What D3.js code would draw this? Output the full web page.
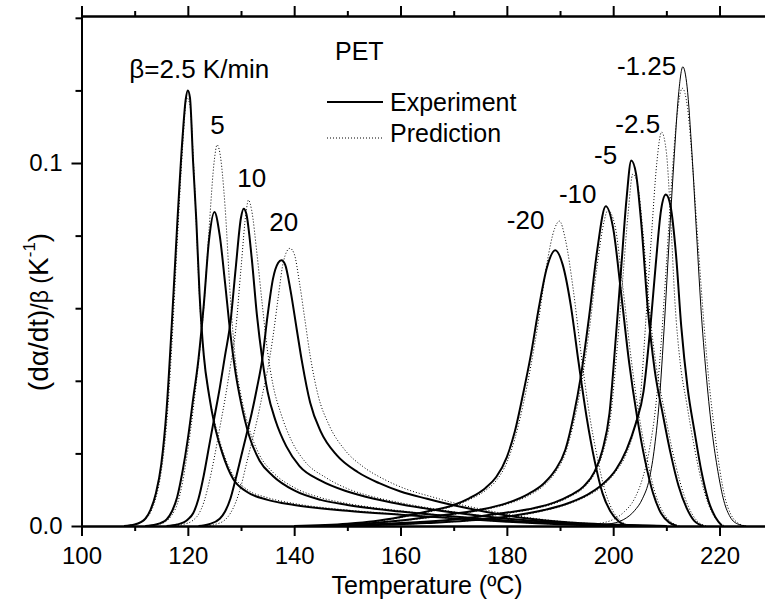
<!DOCTYPE html>
<html>
<head>
<meta charset="utf-8">
<script src="https://cdn.jsdelivr.net/npm/d3@7"></script>
<style>
  body { margin: 0; background: #fff; }
  svg { display: block; font-family: "Liberation Sans", Arial, sans-serif; }
  .axis path, .axis line { stroke: #000; stroke-width: 2; }
  .axis text { font-size: 24px; fill: #000; }
</style>
</head>
<body>
<div class="viz"></div>
<script>
// Heating runs, [temperature, value]
const heat25Exp = [[108,0],[110,0.0004],[112,0.002],[113,0.0045],[114,0.009],[115,0.017],[116,0.032],[117,0.056],[118,0.083],[119,0.107],[119.6,0.1175],[120,0.12],[120.4,0.118],[121,0.1],[121.6,0.084],[122.2,0.064],[123,0.047],[124,0.036],[125,0.028],[126.5,0.02],[128.5,0.013],[131,0.0095],[135,0.0072],[140,0.0058],[150,0.0042],[160,0.0031],[170,0.0021],[180,0.0012],[190,0.0005],[200,0.0001],[210,0]];
const heat25Pred = [[108,0],[110,0.0005],[112,0.0018],[113,0.0038],[114,0.0078],[115,0.015],[116,0.028],[117,0.05],[118,0.078],[119,0.104],[119.8,0.118],[120.4,0.116],[121,0.102],[121.6,0.083],[122.2,0.063],[123,0.047],[124,0.036],[125,0.029],[126.5,0.021],[128.5,0.014],[131,0.0102],[135,0.0078],[140,0.0062],[150,0.0044],[160,0.0032],[170,0.0021],[180,0.0012],[190,0.0005],[200,0.0001],[210,0]];
const heat5Exp = [[112,0],[114,0.0004],[116,0.0018],[117,0.004],[118,0.008],[119,0.015],[120,0.024],[121,0.035],[122,0.046],[123,0.061],[124,0.079],[125,0.0865],[126,0.08],[127,0.067],[128,0.053],[129,0.042],[130,0.034],[131.5,0.025],[133.5,0.018],[136,0.0138],[140,0.0098],[145,0.0072],[150,0.0058],[160,0.004],[170,0.0026],[180,0.0015],[190,0.0007],[200,0.0002],[210,0]];
const heat5Pred = [[112,0],[114,0.0003],[116,0.0014],[117,0.003],[118,0.006],[119,0.012],[120,0.021],[121,0.032],[122,0.045],[123,0.06],[124,0.082],[125,0.101],[125.5,0.105],[126,0.103],[127,0.088],[128,0.063],[129,0.045],[130,0.036],[131.5,0.027],[133.5,0.0195],[136,0.0148],[140,0.0106],[145,0.0078],[150,0.0062],[160,0.0042],[170,0.0027],[180,0.0015],[190,0.0007],[200,0.0002],[210,0]];
const heat10Exp = [[116,0],[118,0.0004],[120,0.0018],[121,0.0035],[122,0.0075],[123,0.014],[124,0.022],[125,0.03],[126,0.038],[127,0.047],[128,0.056],[129,0.071],[130,0.085],[130.5,0.0874],[131,0.086],[132,0.074],[133,0.058],[134,0.046],[135,0.037],[136.5,0.029],[138.5,0.022],[141,0.0165],[145,0.0125],[150,0.0095],[155,0.0075],[160,0.006],[170,0.0037],[180,0.002],[190,0.0009],[200,0.0003],[210,0]];
const heat10Pred = [[117,0],[119,0.0004],[121,0.0016],[122,0.0032],[123,0.0065],[124,0.012],[125,0.019],[126,0.027],[127,0.035],[128,0.044],[129,0.054],[130,0.071],[131,0.087],[131.4,0.0898],[132,0.087],[133,0.075],[134,0.061],[135,0.048],[136,0.039],[137.5,0.031],[139.5,0.0235],[142,0.0178],[146,0.0133],[150,0.0103],[155,0.008],[160,0.0064],[170,0.0039],[180,0.0021],[190,0.0009],[200,0.0003],[210,0]];
const heat20Exp = [[122,0],[124,0.0005],[126,0.002],[127,0.004],[128,0.0075],[129,0.013],[130,0.019],[131,0.025],[132,0.031],[133,0.038],[134,0.046],[135,0.058],[136,0.068],[137,0.0725],[137.6,0.0732],[138.3,0.072],[139.3,0.065],[140.5,0.054],[141.5,0.045],[143,0.034],[145,0.026],[148,0.0195],[152,0.0148],[156,0.0118],[160,0.0095],[165,0.0075],[170,0.0057],[175,0.0042],[180,0.0029],[190,0.0012],[200,0.0004],[210,0]];
const heat20Pred = [[123,0],[125,0.0004],[127,0.0017],[128,0.0035],[129,0.0065],[130,0.011],[131,0.017],[132,0.023],[133,0.029],[134,0.036],[135,0.043],[136,0.052],[137,0.063],[138,0.073],[139.2,0.0765],[140,0.075],[141,0.067],[142,0.057],[143,0.047],[144.5,0.036],[146.5,0.028],[149.5,0.021],[153,0.0163],[157,0.0128],[161,0.0102],[166,0.008],[171,0.006],[176,0.0044],[181,0.003],[190,0.0013],[200,0.0004],[210,0]];

// Cooling runs
const cool20Exp = [[140,0],[150,0.0006],[155,0.0013],[160,0.0025],[165,0.004],[170,0.0058],[173,0.0077],[176,0.0105],[178,0.0135],[180,0.019],[181.5,0.026],[183,0.036],[184.5,0.047],[186,0.06],[187.5,0.071],[189.1,0.076],[190.5,0.072],[192,0.061],[193.5,0.045],[195,0.03],[196.5,0.018],[198,0.009],[199.5,0.004],[201,0.0013],[203,0]];
const cool20Pred = [[140,0],[150,0.0005],[155,0.0012],[160,0.0023],[165,0.0038],[170,0.0055],[173,0.0073],[176,0.0098],[178,0.0125],[180,0.0175],[181.5,0.024],[183,0.033],[184.5,0.044],[186,0.057],[187.5,0.072],[189,0.082],[189.9,0.084],[191,0.079],[192.5,0.065],[194,0.047],[195.5,0.031],[197,0.019],[198.5,0.0095],[200,0.004],[201.5,0.0013],[203.5,0]];
const cool10Exp = [[145,0],[155,0.0008],[160,0.0015],[165,0.0024],[170,0.0034],[175,0.0045],[180,0.0063],[184,0.0088],[187,0.0118],[189,0.0152],[191,0.021],[192.5,0.03],[194,0.042],[195.5,0.058],[197,0.076],[198.6,0.0881],[200,0.082],[201.5,0.064],[203,0.045],[204.5,0.03],[206,0.018],[207.5,0.009],[209,0.0035],[210.5,0.001],[212,0]];
const cool10Pred = [[145,0],[155,0.0007],[160,0.0014],[165,0.0022],[170,0.0032],[175,0.0043],[180,0.006],[184,0.0083],[187,0.0112],[189,0.0145],[191,0.02],[192.5,0.028],[194,0.039],[195.5,0.054],[197,0.072],[198.3,0.084],[199,0.087],[200.3,0.083],[201.8,0.066],[203.3,0.047],[204.8,0.031],[206.3,0.019],[207.8,0.0095],[209.3,0.004],[211,0.001],[212.5,0]];
const cool5Exp = [[148,0],[160,0.0008],[170,0.0018],[175,0.0027],[180,0.0037],[185,0.0049],[189,0.0065],[192,0.0085],[194.5,0.011],[196.5,0.015],[198,0.021],[199.3,0.031],[200.5,0.052],[201.5,0.071],[202.5,0.09],[203.4,0.1007],[204.3,0.097],[205.3,0.083],[206.5,0.06],[207.8,0.043],[209.3,0.031],[210.8,0.02],[212.3,0.011],[213.8,0.005],[215.2,0.0015],[217,0]];
const cool5Pred = [[148,0],[160,0.0007],[170,0.0017],[175,0.0025],[180,0.0035],[185,0.0047],[189,0.0062],[192,0.0082],[194.5,0.0106],[196.5,0.0145],[198,0.02],[199.5,0.03],[200.8,0.05],[201.8,0.068],[202.8,0.086],[203.7,0.097],[204.6,0.094],[205.6,0.081],[206.8,0.06],[208.1,0.044],[209.6,0.032],[211.1,0.021],[212.6,0.012],[214.1,0.0055],[215.6,0.0017],[217.5,0]];
const cool25Exp = [[150,0],[165,0.0008],[175,0.0018],[182,0.003],[187,0.0044],[191,0.006],[195,0.0085],[198,0.0115],[200.5,0.0155],[202.5,0.021],[204.2,0.028],[205.7,0.037],[207,0.055],[208,0.072],[209,0.087],[209.9,0.0913],[210.8,0.088],[211.8,0.075],[212.8,0.055],[214,0.038],[215.3,0.026],[216.6,0.015],[217.9,0.007],[219.2,0.0025],[220.5,0]];
const cool25Pred = [[150,0],[165,0.0008],[175,0.0017],[182,0.0028],[187,0.0042],[191,0.0058],[195,0.0082],[198,0.011],[200.5,0.015],[202.5,0.02],[204,0.027],[205.2,0.037],[206.2,0.058],[207.2,0.08],[208.2,0.1],[209.1,0.1085],[210,0.103],[210.8,0.085],[211.6,0.062],[212.6,0.045],[213.8,0.034],[215.1,0.023],[216.5,0.013],[217.9,0.006],[219.3,0.002],[221,0]];
const cool125Exp = [[195,0],[199,0.0005],[202,0.0018],[204,0.0042],[205.5,0.0075],[206.8,0.013],[207.8,0.022],[208.7,0.035],[209.6,0.055],[210.5,0.078],[211.4,0.1],[212.3,0.119],[213.1,0.1265],[213.9,0.121],[214.8,0.103],[215.7,0.08],[216.6,0.058],[217.6,0.04],[218.6,0.026],[219.7,0.015],[220.8,0.007],[222,0.0025],[223.5,0.0005],[225,0]];
const cool125Pred = [[193,0],[197,0.0006],[200,0.0018],[202,0.0038],[204,0.0075],[205.5,0.013],[206.8,0.021],[208,0.033],[209,0.05],[210,0.072],[211,0.095],[212,0.113],[213,0.1206],[214,0.115],[215,0.098],[216,0.077],[217,0.057],[218,0.04],[219,0.027],[220,0.016],[221,0.008],[222.2,0.003],[223.5,0.0008],[225,0]];

const experimentRuns = [heat25Exp, heat5Exp, heat10Exp, heat20Exp, cool20Exp, cool10Exp, cool5Exp, cool25Exp];
const thinRuns = [cool125Exp];
const predictionRuns = [heat25Pred, heat5Pred, heat10Pred, heat20Pred, cool20Pred, cool10Pred, cool5Pred, cool25Pred, cool125Pred];

const xMajorTicks = [100, 120, 140, 160, 180, 200, 220];
const xMinorTicks = [110, 130, 150, 170, 190, 210, 230];
const yMajorTicks = [0, 0.1];
const yMinorTicks = [0.02, 0.04, 0.06, 0.08, 0.12, 0.14];

// Peak labels: text, temperature, value at the text baseline
const peakLabels = [
  { text: "β=2.5 K/min", t: 109.0, v: 0.1233 },
  { text: "5", t: 124.2, v: 0.1080 },
  { text: "10", t: 129.3, v: 0.0935 },
  { text: "20", t: 135.3, v: 0.0814 },
  { text: "-20", t: 180.0, v: 0.0818 },
  { text: "-10", t: 189.8, v: 0.0889 },
  { text: "-5", t: 196.4, v: 0.0997 },
  { text: "-2.5", t: 200.4, v: 0.1083 },
  { text: "-1.25", t: 200.7, v: 0.1242 },
];

const width = 765, height = 605;
const svg = d3.select(".viz").append("svg").attr("width", width).attr("height", height);

const xScale = d3.scaleLinear().domain([100, 230]).range([81.5, 772.7]);
const yScale = d3.scaleLinear().domain([0, 0.1405]).range([526, 16]);

const line = d3.line()
  .x((d) => xScale(d[0]))
  .y((d) => yScale(d[1]))
  .curve(d3.curveMonotoneX);

// curves
svg.append("g").selectAll("path")
  .data(predictionRuns).enter().append("path")
  .attr("d", line).attr("fill", "none")
  .attr("stroke", "#000").attr("stroke-width", 1)
  .attr("stroke-dasharray", "1,2");

svg.append("g").selectAll("path")
  .data(thinRuns).enter().append("path")
  .attr("d", line).attr("fill", "none")
  .attr("stroke", "#000").attr("stroke-width", 1);

svg.append("g").selectAll("path")
  .data(experimentRuns).enter().append("path")
  .attr("d", line).attr("fill", "none")
  .attr("stroke", "#000").attr("stroke-width", 2);

// axes
const fmt = d3.format(".1f");
svg.append("g").attr("class", "axis")
  .attr("transform", `translate(0,${yScale(0)})`)
  .call(d3.axisBottom(xScale).tickValues(xMajorTicks).tickSize(10).tickPadding(11).tickSizeOuter(0));
svg.append("g").attr("class", "axis")
  .attr("transform", `translate(0,${yScale(0)})`)
  .call(d3.axisBottom(xScale).tickValues(xMinorTicks).tickSize(5).tickFormat("").tickSizeOuter(0));

svg.append("g").attr("class", "axis")
  .attr("transform", `translate(0,${yScale.range()[1]})`)
  .call(d3.axisTop(xScale).tickValues(xMajorTicks).tickSize(10).tickFormat("").tickSizeOuter(0));
svg.append("g").attr("class", "axis")
  .attr("transform", `translate(0,${yScale.range()[1]})`)
  .call(d3.axisTop(xScale).tickValues(xMinorTicks).tickSize(5).tickFormat("").tickSizeOuter(0));

svg.append("g").attr("class", "axis")
  .attr("transform", `translate(${xScale(100)},0)`)
  .call(d3.axisLeft(yScale).tickValues(yMajorTicks).tickSize(10).tickPadding(9).tickFormat(fmt).tickSizeOuter(0));
svg.append("g").attr("class", "axis")
  .attr("transform", `translate(${xScale(100)},0)`)
  .call(d3.axisLeft(yScale).tickValues(yMinorTicks).tickSize(6).tickFormat("").tickSizeOuter(0));

svg.selectAll(".axis .domain").attr("stroke-linecap", "square");

// axis titles
svg.append("text")
  .attr("x", (xScale(100) + xScale(230)) / 2)
  .attr("y", 594)
  .attr("text-anchor", "middle")
  .style("font-size", "25px")
  .text("Temperature (ºC)");

const yTitle = svg.append("text")
  .attr("transform", "translate(48,312) rotate(-90)")
  .attr("text-anchor", "middle")
  .style("font-size", "28px");
yTitle.append("tspan").text("(dα/dt)");
yTitle.append("tspan").style("font-size", "23px").text("/β (");
yTitle.append("tspan").text("K");
yTitle.append("tspan").style("font-size", "17px").attr("dy", -13).text("-1");
yTitle.append("tspan").attr("dy", 13).text(")");

// peak labels
svg.append("g").selectAll("text")
  .data(peakLabels).enter().append("text")
  .attr("x", (d) => xScale(d.t))
  .attr("y", (d) => yScale(d.v))
  .style("font-size", "26px")
  .text((d) => d.text);

// PET + legend
svg.append("text").attr("x", 335).attr("y", 60).style("font-size", "25px").text("PET");

svg.append("line").attr("x1", 327).attr("x2", 383).attr("y1", 102).attr("y2", 102)
  .attr("stroke", "#000").attr("stroke-width", 2);
svg.append("text").attr("x", 390).attr("y", 111).style("font-size", "25px").text("Experiment");
svg.append("line").attr("x1", 327).attr("x2", 383).attr("y1", 138).attr("y2", 138)
  .attr("stroke", "#000").attr("stroke-width", 1).attr("stroke-dasharray", "1,2");
svg.append("text").attr("x", 390).attr("y", 142).style("font-size", "25px").text("Prediction");
</script>
</body>
</html>
